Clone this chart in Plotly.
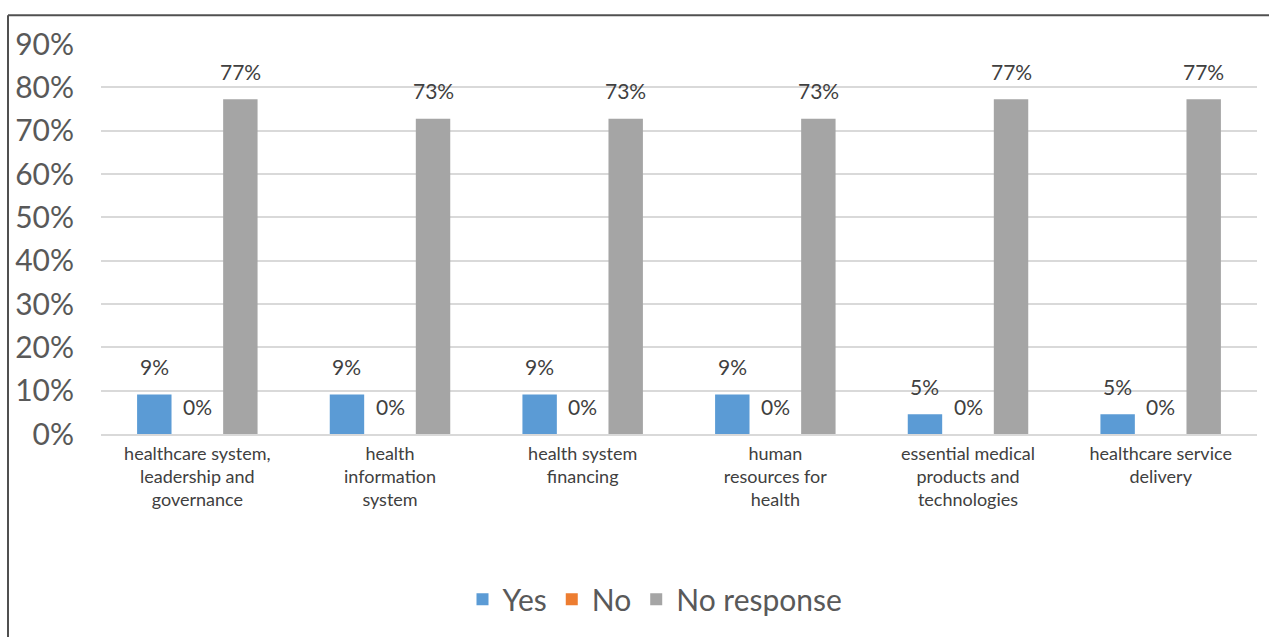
import plotly.graph_objects as go

# Survey responses per health-system building block (share of 22 respondents, %)
categories = [
    "healthcare system,<br>leadership and<br>governance",
    "health<br>information<br>system",
    "health system<br>financing",
    "human<br>resources for<br>health",
    "essential medical<br>products and<br>technologies",
    "healthcare service<br>delivery",
]
yes_vals = [100 * 2 / 22, 100 * 2 / 22, 100 * 2 / 22, 100 * 2 / 22, 100 * 1 / 22, 100 * 1 / 22]
no_vals = [0, 0, 0, 0, 0, 0]
no_response_vals = [100 * 17 / 22, 100 * 16 / 22, 100 * 16 / 22, 100 * 16 / 22, 100 * 17 / 22, 100 * 17 / 22]

series = [
    ("Yes", yes_vals, "#5B9BD5"),
    ("No", no_vals, "#ED7D31"),
    ("No response", no_response_vals, "#A5A5A5"),
]

FONT = "Lato, 'Open Sans', sans-serif"
BARGAP = 0.33

fig = go.Figure()
for name, vals, color in series:
    fig.add_trace(go.Bar(
        name=name,
        x=categories,
        y=vals,
        marker=dict(color=color, line=dict(width=0)),
    ))

# Data labels: floated above each bar, centred on its slot within the group
slot = (1 - BARGAP) / len(series)
annotations = []
for k, (name, vals, color) in enumerate(series):
    offset = (k - (len(series) - 1) / 2) * slot
    for i, v in enumerate(vals):
        annotations.append(dict(
            x=i + offset, y=v, xref="x", yref="y",
            text=f"{v:.0f}%", showarrow=False,
            yanchor="middle", xanchor="center", yshift=28,
            font=dict(family=FONT, size=21, color="#404040"),
        ))

# Chart-area frame (top and left edges)
L, R, T, B = 101, 12, 44, 201
W, H = 1269, 637
pw, ph = W - L - R, H - T - B
fx = (8 - L) / pw
fy = 1 + (T - 15) / ph
fig.add_shape(type="line", xref="paper", yref="paper", x0=fx, x1=1 + R / pw + 0.01, y0=fy, y1=fy,
              line=dict(color="#505050", width=2))
fig.add_shape(type="line", xref="paper", yref="paper", x0=fx, x1=fx, y0=fy, y1=-B / ph - 0.01,
              line=dict(color="#505050", width=2))

fig.update_layout(
    width=W, height=H,
    margin=dict(l=L, r=R, t=T, b=B),
    paper_bgcolor="white",
    plot_bgcolor="white",
    barmode="group",
    bargap=BARGAP,
    bargroupgap=0.2,
    annotations=annotations,
    font=dict(family=FONT, color="#595959"),
    legend=dict(
        orientation="h",
        x=(655 - L) / pw, xanchor="center",
        y=-(602 - (H - B)) / ph, yanchor="middle",
        font=dict(family=FONT, size=30, color="#595959"),
        itemsizing="constant",
        traceorder="normal",
    ),
    xaxis=dict(
        showgrid=False,
        showline=True,
        linecolor="#D9D9D9",
        linewidth=2,
        ticks="",
        tickfont=dict(family=FONT, size=18, color="#404040"),
        ticklabelstandoff=2,
    ),
    yaxis=dict(
        range=[0, 90],
        dtick=10,
        ticksuffix="%",
        showgrid=True,
        gridcolor="#D9D9D9",
        gridwidth=2,
        zeroline=False,
        ticks="",
        tickfont=dict(family=FONT, size=30, color="#595959"),
        ticklabelstandoff=26,
    ),
)

fig.write_html("out.html")
